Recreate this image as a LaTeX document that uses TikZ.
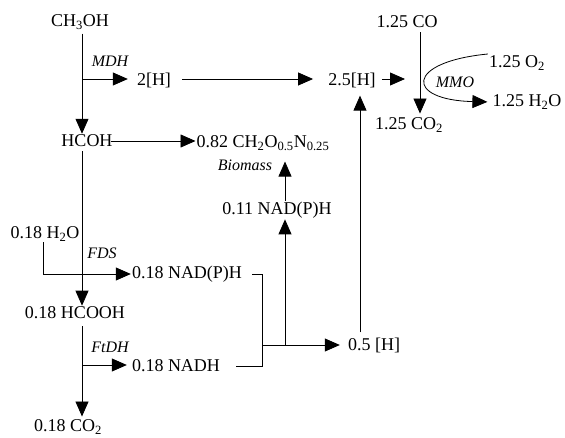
\documentclass[tikz,border=0pt]{standalone}
\usepackage{fontspec}
\setmainfont{Liberation Serif}
\usetikzlibrary{arrows.meta}

\begin{document}
\begin{tikzpicture}[x=1pt,y=-1pt,font=\fontsize{18}{20}\selectfont,
  every node/.style={inner sep=1pt},
  flow/.style={-{Triangle[length=15pt,width=13pt]},line width=0.8pt},
  plain/.style={line width=0.8pt},
  enz/.style={font=\fontsize{16}{18}\selectfont\itshape}]
\useasboundingbox (0,0) rectangle (565,438);
\node (methanol) at (80,22) {CH\textsubscript{3}OH};
\node (twoH) at (154,80) {2[H]};
\node (hH) at (352,80) {2.5[H]};
\node (co) at (407,22) {1.25 CO};
\node (co2top) at (409,125) {1.25 CO\textsubscript{2}};
\node (o2) at (517,63) {1.25 O\textsubscript{2}};
\node (h2o) at (527,102) {1.25 H\textsubscript{2}O};
\node[enz] (mmo) at (455,82) {MMO};
\node[enz] (mdh) at (110,61) {MDH};
\node (hcoh) at (87,141) {HCOH};
\node (biomass) at (263,143) {0.82 CH\textsubscript{2}O\textsubscript{0.5}N\textsubscript{0.25}};
\node[enz] (biolbl) at (245,165) {Biomass};
\node (nadp11) at (277,210) {0.11 NAD(P)H};
\node (water) at (45,234) {0.18 H\textsubscript{2}O};
\node[enz] (fds) at (102,253) {FDS};
\node (nadp18) at (187,274) {0.18 NAD(P)H};
\node (formate) at (75,313) {0.18 HCOOH};
\node[enz] (ftdh) at (110,347) {FtDH};
\node (nadh) at (176,366) {0.18 NADH};
\node (halfH) at (374,345) {0.5 [H]};
\node (co2) at (68,427) {0.18 CO\textsubscript{2}};
\coordinate (mdhbr) at (82,79);
\coordinate (mono) at (420,79);
\coordinate (fdsbr) at (43,274);
\coordinate (ftdhbr) at (82,365);
\coordinate (merge) at (262,345);
\coordinate (split) at (285,345);
\draw[flow,shorten <=3pt] (methanol.south -| mdhbr) -- (hcoh.north -| mdhbr);
\draw[flow,shorten >=8pt] (mdhbr) -- (twoH.west |- mdhbr);
\draw[flow,shorten <=10pt,shorten >=14pt] (twoH.east |- mdhbr) -- (hH.west |- mdhbr);
\draw[flow,shorten <=5pt,shorten >=15pt] (hH.east |- mono) -- (mono);
\draw[flow,shorten <=3pt,shorten >=3pt] (co.south -| mono) -- (co2top.north -| mono);
\draw[flow,shorten >=4pt] ([yshift=9pt]o2.west) .. controls (405,62) and (405,100) .. (h2o.west);
\draw[flow,shorten <=-3pt] (hcoh.east) -- (hcoh.east -| biomass.west);
\draw[flow,shorten <=3pt] (hcoh.south -| mdhbr) -- (formate.north -| mdhbr);
\draw[flow] (water.south -| fdsbr) -- (fdsbr) -- (nadp18.west |- fdsbr);
\draw[plain,shorten <=9pt,shorten >=15pt] (nadp18.east) -- (nadp18.east -| merge) -- (nadh.east -| merge) -- (nadh.east);
\draw[flow,shorten >=7pt] (merge) -- (halfH.west);
\draw[flow] (split) -- (nadp11.south -| split);
\draw[flow,shorten >=10pt] (nadp11.north -| split) -- (biomass.south -| split);
\draw[flow,shorten <=4pt,shorten >=7pt] ([xshift=-14pt]halfH.north) -- ([xshift=8pt]hH.south);
\draw[flow,shorten <=6pt,shorten >=2pt] (formate.south -| mdhbr) -- (co2.north -| mdhbr);
\draw[flow,shorten >=4pt] (ftdhbr) -- (nadh.west |- ftdhbr);
\end{tikzpicture}
\end{document}
